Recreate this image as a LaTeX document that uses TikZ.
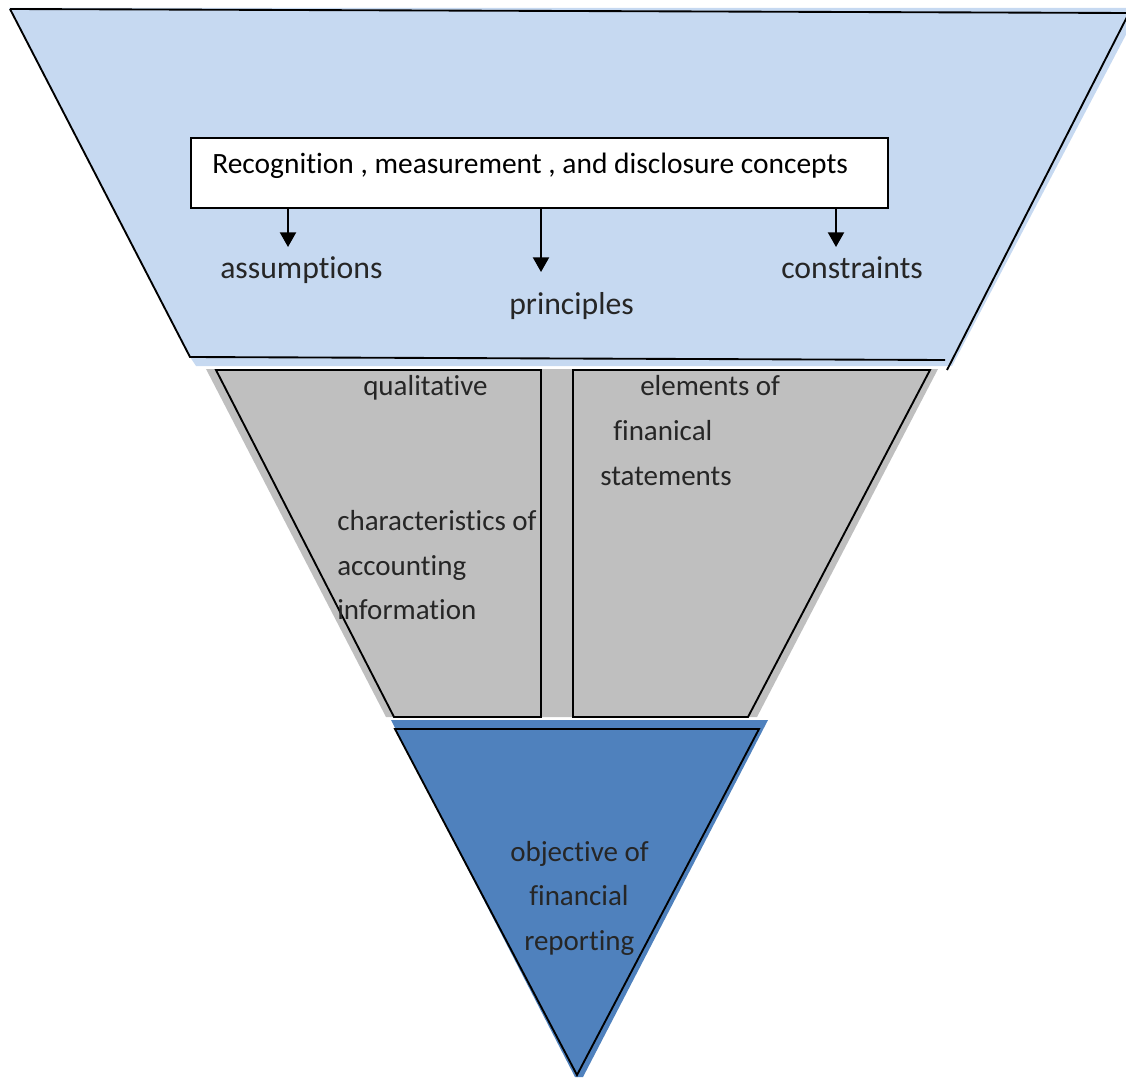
\documentclass[tikz,border=0pt]{standalone}
\usepackage{fontspec}
\setmainfont{Carlito}[Ligatures=NoCommon]
\usetikzlibrary{arrows.meta}
\definecolor{topblue}{HTML}{C6D9F1}
\definecolor{midgray}{HTML}{BFBFBF}
\definecolor{botblue}{HTML}{4F81BD}
\definecolor{labelgray}{HTML}{262626}
\begin{document}
\begin{tikzpicture}[x=0.75pt,y=-0.75pt,
  outline/.style={draw=black,line width=1.4pt,line join=miter},
  lbl/.style={anchor=base west,inner sep=0pt,text=labelgray,font=\fontsize{21.75}{26}\selectfont},
  toplbl/.style={lbl,font=\fontsize{23.8}{28}\selectfont},
  arr/.style={draw=black,line width=1.6pt,-{Triangle[width=12pt,length=11pt]}}]
\useasboundingbox (0,0) rectangle (1126,1077);
\clip (0,0) rectangle (1126,1077);
% fills
\fill[topblue] (9,8) -- (1140,8) -- (952,366) -- (196,366) -- (190,357) -- cycle;
\fill[midgray] (206,369) -- (938,369) -- (757,717) -- (386,717) -- cycle;
\fill[botblue] (391,720) -- (768,720) -- (583,1077) -- (575,1077) -- cycle;
% outlines
\draw[outline] (10,9) -- (1129,13);
\draw[outline] (10,9) -- (190,357) -- (945,360);
\draw[outline] (1129,13) -- (947,370);
\draw[outline] (216,370) -- (541,370) -- (541,717) -- (394,717) -- cycle;
\draw[outline] (573,370) -- (930,370) -- (748,717) -- (573,717) -- cycle;
\draw[outline] (395,729) -- (759,729) -- (577,1075) -- cycle;
% top box
\node (box) [draw=black,line width=1.4pt,fill=white,anchor=north west,inner sep=0pt,
  minimum width=522.75pt,minimum height=52.5pt] at (190,137) {};
\node (boxtext) [anchor=base west,inner sep=0pt,font=\fontsize{22.1}{26}\selectfont]
  at (212,173) {Recognition , measurement , and disclosure concepts};
\coordinate (tA) at (288,247);
\coordinate (tP) at (541,272);
\coordinate (tC) at (836,247);
\draw[arr] (box.south -| tA) -- (tA);
\draw[arr] (box.south -| tP) -- (tP);
\draw[arr] (box.south -| tC) -- (tC);
\node (assump) [toplbl] at (220,278) {assumptions};
\node (princ) [toplbl] at (509,314) {principles};
\node (constr) [toplbl] at (781,278) {constraints};
% middle
\node (qual) [lbl] at (363,395) {qualitative};
\node (char) [lbl] at (337,530) {characteristics of};
\node (acct) [lbl] at (337,575) {accounting};
\node (info) [lbl] at (337,619) {information};
\node (elem) [lbl] at (640,395) {elements of};
\node (finan) [lbl] at (613,440) {finanical};
\node (stat) [lbl] at (600,485) {statements};
% bottom
\node (obj) [lbl] at (510,861) {objective of};
\node (fin) [lbl] at (529,905) {financial};
\node (rep) [lbl] at (524,950) {reporting};
\end{tikzpicture}
\end{document}
